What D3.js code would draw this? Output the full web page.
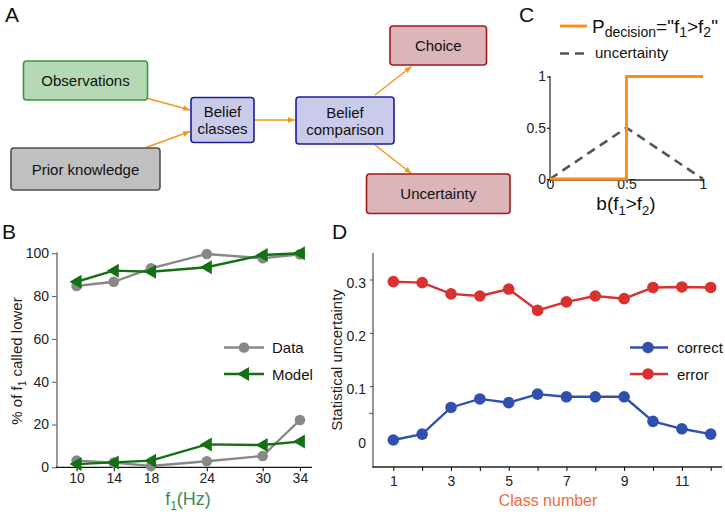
<!DOCTYPE html>
<html><head><meta charset="utf-8">
<script src="https://cdn.jsdelivr.net/npm/d3@7"></script>
<style>
body{margin:0;background:#fff;}
svg{display:block;font-family:"Liberation Sans",Arial,sans-serif;}
</style></head>
<body><svg id="c" width="725" height="515"></svg>
<script>
// ---------- DATA ----------
// Panel A diagram nodes
const nodeLabels = [["Observations"],["Prior knowledge"],["Belief","classes"],["Belief","comparison"],["Choice"],["Uncertainty"]];
const nodeKinds = ["obs","prior","belief","belief","out","out"];
const edges = [[0,2],[1,2],[2,3],[3,4],[3,5]];
// Panel B
const freqs = [10,14,18,24,30,34];
const freqTicks = [10,14,18,24,30,34];
const dataHigh = [84.7,86.7,93,99.7,97.7,99.5];
const dataLow = [3.1,2.2,0.6,2.8,5.3,22.1];
const modelHigh = [86.7,91.9,91.4,93.5,99.2,100];
const modelLow = [1.5,2.3,3.1,10.7,10.4,12];
const pctTicks = [0,20,40,60,80,100];
// Panel C
const beliefX = [0,0.5,0.5,1];
const pDecision = [0,0,1,1];
const uncX = [0,0.5,1];
const uncY = [0,0.5,0];
const cTicks = [0,0.5,1];
const cTickLabels = ["0","0.5","1"];
// Panel D
const classes = [1,2,3,4,5,6,7,8,9,10,11,12];
const correctU = [0.0,0.011,0.061,0.077,0.070,0.086,0.081,0.081,0.081,0.035,0.021,0.011];
const errorU = [0.297,0.295,0.274,0.270,0.283,0.243,0.259,0.270,0.265,0.286,0.287,0.286];
const dYTicks = [0,0.1,0.2,0.3];
const dXTickLabels = [1,3,5,7,9,11];

// ---------- DRAW ----------
const svg = d3.select("#c");
const FONT = "14px";
const ORANGE = "#f7941d";

function letter(t,x,y){svg.append("text").attr("x",x).attr("y",y).attr("font-size","21px").attr("fill","#111").text(t);}
letter("A",5,22); letter("B",2,239); letter("C",519,22); letter("D",332,239);

// ---- Panel A ----
const layout = [
  {x:23.5,y:61,w:124,h:39},
  {x:11,y:148,w:149,h:42},
  {x:191,y:97.5,w:63,h:45},
  {x:296,y:97,w:98,h:47},
  {x:390,y:26,w:96.5,h:39},
  {x:366.5,y:174,w:143.5,h:39.5}
];
const styles = {
  obs:{fill:"#b5d9b5",stroke:"#3a9a3a"},
  prior:{fill:"#c0c0c0",stroke:"#505050"},
  belief:{fill:"#cacaea",stroke:"#1c1c9c"},
  out:{fill:"#dbb5b8",stroke:"#a01a1a"}
};
const defs = svg.append("defs");
defs.append("marker").attr("id","arr").attr("viewBox","0 0 10 10").attr("refX",10).attr("refY",5)
  .attr("markerWidth",7).attr("markerHeight",7).attr("markerUnits","userSpaceOnUse").attr("orient","auto")
  .append("path").attr("d","M0,1 L10,5 L0,9 Z").attr("fill",ORANGE);

const arrowPts = [
  [[148,98.5],[190,110]],
  [[146,147.5],[190,131.5]],
  [[254,120],[295,120]],
  [[375,95],[411.5,66.5]],
  [[375,145],[411.5,173.5]]
];
edges.forEach((e,i)=>{
  const p = arrowPts[i];
  svg.append("line").attr("x1",p[0][0]).attr("y1",p[0][1]).attr("x2",p[1][0]).attr("y2",p[1][1])
    .attr("stroke",ORANGE).attr("stroke-width",1.4).attr("marker-end","url(#arr)");
});
nodeLabels.forEach((lab,i)=>{
  const L = layout[i], s = styles[nodeKinds[i]];
  svg.append("rect").attr("x",L.x).attr("y",L.y).attr("width",L.w).attr("height",L.h).attr("rx",3)
    .attr("fill",s.fill).attr("stroke",s.stroke).attr("stroke-width",1.6);
  const t = svg.append("text").attr("text-anchor","middle").attr("font-size","15px").attr("fill","#111");
  const cx = L.x+L.w/2, cy = L.y+L.h/2;
  if(lab.length===1){ t.append("tspan").attr("x",cx).attr("y",cy+5.5).text(lab[0]); }
  else { t.append("tspan").attr("x",cx).attr("y",cy-3).text(lab[0]); t.append("tspan").attr("x",cx).attr("y",cy+14).text(lab[1]); }
});

// ---- Panel B ----
const xB = d3.scaleLinear().domain([7.9,35.3]).range([57,312]);
const yB = d3.scaleLinear().domain([0,100]).range([467.3,253.3]);
const gB = svg.append("g");
const axBL = gB.append("g").attr("transform","translate(57,0)")
  .call(d3.axisLeft(yB).tickValues(pctTicks).tickSize(5).tickSizeOuter(0).tickPadding(3));
axBL.select(".domain").remove();
axBL.selectAll("line").attr("stroke","#555");
axBL.selectAll("text").attr("font-size",FONT).attr("fill","#222").attr("font-family",null);
gB.append("line").attr("x1",57).attr("x2",57).attr("y1",yB(100)-1).attr("y2",yB(0)).attr("stroke","#777").attr("stroke-width",1.5);
const axBB = gB.append("g").attr("transform","translate(0,467.3)")
  .call(d3.axisBottom(xB).tickValues(freqTicks).tickSize(4).tickSizeOuter(0).tickPadding(2));
axBB.select(".domain").remove();
axBB.selectAll("text").attr("font-size",FONT).attr("fill","#222").attr("font-family",null);
gB.append("line").attr("x1",56).attr("x2",312).attr("y1",467.3).attr("y2",467.3).attr("stroke","#111").attr("stroke-width",1.3);

const lineB = d3.line().x((d,i)=>xB(freqs[i])).y(d=>yB(d));
const GRAY="#888", GREEN="#137013";
[dataHigh,dataLow].forEach(arr=>{
  gB.append("path").attr("d",lineB(arr)).attr("fill","none").attr("stroke",GRAY).attr("stroke-width",2.4);
  gB.selectAll(null).data(arr).enter().append("circle").attr("cx",(d,i)=>xB(freqs[i])).attr("cy",d=>yB(d)).attr("r",5.3).attr("fill",GRAY);
});
const tri = "M-7,0 L5,-7 L5,7 Z";
[modelHigh,modelLow].forEach(arr=>{
  gB.append("path").attr("d",lineB(arr)).attr("fill","none").attr("stroke",GREEN).attr("stroke-width",2.4);
  gB.selectAll(null).data(arr).enter().append("path").attr("d",tri)
    .attr("transform",(d,i)=>`translate(${xB(freqs[i])},${yB(d)})`).attr("fill",GREEN);
});
// legend B
gB.append("line").attr("x1",224).attr("x2",264).attr("y1",347.5).attr("y2",347.5).attr("stroke",GRAY).attr("stroke-width",2.4);
gB.append("circle").attr("cx",244).attr("cy",347.5).attr("r",5.3).attr("fill",GRAY);
gB.append("text").attr("x",272).attr("y",353).attr("font-size","15px").attr("fill","#111").text("Data");
gB.append("line").attr("x1",224).attr("x2",264).attr("y1",374).attr("y2",374).attr("stroke",GREEN).attr("stroke-width",2.4);
gB.append("path").attr("d",tri).attr("transform","translate(244,374)").attr("fill",GREEN);
gB.append("text").attr("x",272).attr("y",380).attr("font-size","15px").attr("fill","#111").text("Model");
// labels
const ylB = gB.append("text").attr("transform","translate(22,361) rotate(-90)").attr("text-anchor","middle").attr("font-size","15px").attr("fill","#222");
ylB.append("tspan").text("% of  f");
ylB.append("tspan").attr("font-size","10px").attr("dy",4).text("1");
ylB.append("tspan").attr("dy",-4).text(" called lower");
const xlB = gB.append("text").attr("x",188).attr("y",505).attr("text-anchor","middle").attr("font-size","18px").attr("fill","#3d8c50");
xlB.append("tspan").text("f");
xlB.append("tspan").attr("font-size","12px").attr("dy",5).text("1");
xlB.append("tspan").attr("dy",-5).text("(Hz)");

// ---- Panel C ----
const xC = d3.scaleLinear().domain([0,1]).range([550,703]);
const yC = d3.scaleLinear().domain([0,1]).range([179,76.5]);
const gC = svg.append("g");
gC.append("line").attr("x1",550).attr("x2",550).attr("y1",76).attr("y2",180.5).attr("stroke","#333").attr("stroke-width",1.3);
gC.append("line").attr("x1",549.5).attr("x2",703.5).attr("y1",180).attr("y2",180).attr("stroke","#333").attr("stroke-width",1.3);
const axCL = gC.append("g").attr("transform","translate(550,0)")
  .call(d3.axisLeft(yC).tickValues(cTicks).tickFormat((d,i)=>cTickLabels[i]).tickSize(3).tickSizeOuter(0).tickPadding(1));
axCL.select(".domain").remove();
axCL.selectAll("text").attr("font-size","14px").attr("fill","#222").attr("font-family",null);
const axCB = gC.append("g").attr("transform","translate(0,180)")
  .call(d3.axisBottom(xC).tickValues(cTicks).tickFormat((d,i)=>cTickLabels[i]).tickSize(3).tickSizeOuter(0).tickPadding(-4));
axCB.select(".domain").remove();
axCB.selectAll("text").attr("font-size","14px").attr("fill","#222").attr("font-family",null);
gC.append("path").attr("d",d3.line().x((d,i)=>xC(uncX[i])).y(d=>yC(d))(uncY))
  .attr("fill","none").attr("stroke","#555").attr("stroke-width",2.6).attr("stroke-dasharray","9,6");
gC.append("path").attr("d",d3.line().x((d,i)=>xC(beliefX[i])).y(d=>yC(d))(pDecision))
  .attr("fill","none").attr("stroke","#ff8a14").attr("stroke-width",2.8);
const xlC = gC.append("text").attr("x",626).attr("y",210).attr("text-anchor","middle").attr("font-size","19px").attr("fill","#111");
xlC.append("tspan").text("b(f");
xlC.append("tspan").attr("font-size","13px").attr("dy",5).text("1");
xlC.append("tspan").attr("dy",-5).text(">f");
xlC.append("tspan").attr("font-size","13px").attr("dy",5).text("2");
xlC.append("tspan").attr("dy",-5).text(")");
// legend C
gC.append("line").attr("x1",560).attr("x2",587).attr("y1",26).attr("y2",26).attr("stroke","#ff8a14").attr("stroke-width",2.8);
const lt = gC.append("text").attr("x",592).attr("y",33).attr("font-size","19px").attr("fill","#111");
lt.append("tspan").text("P");
lt.append("tspan").attr("font-size","14px").attr("dy",4).text("decision");
lt.append("tspan").attr("dy",-4).text("=\"f");
lt.append("tspan").attr("font-size","14px").attr("dy",4).text("1");
lt.append("tspan").attr("dy",-4).text(">f");
lt.append("tspan").attr("font-size","14px").attr("dy",4).text("2");
lt.append("tspan").attr("dy",-4).text("\"");
gC.append("line").attr("x1",560).attr("x2",587).attr("y1",53.5).attr("y2",53.5).attr("stroke","#555").attr("stroke-width",2.6).attr("stroke-dasharray","9,6");
gC.append("text").attr("x",595).attr("y",58).attr("font-size","15px").attr("fill","#111").text("uncertainty");

// ---- Panel D ----
const xD = d3.scaleLinear().domain([1,12]).range([393.3,710.7]);
const yD = d3.scaleLinear().domain([0,0.3]).range([440,280]);
const gD = svg.append("g");
gD.append("line").attr("x1",373).attr("x2",373).attr("y1",253).attr("y2",467.5).attr("stroke","#666").attr("stroke-width",1.4);
gD.append("line").attr("x1",372.5).attr("x2",722).attr("y1",467).attr("y2",467).attr("stroke","#222").attr("stroke-width",1.3);
const axDL = gD.append("g").attr("transform","translate(373,0)")
  .call(d3.axisLeft(yD).tickValues(dYTicks).tickFormat(d=>d===0?"0":d3.format(".1f")(d)).tickSize(0).tickPadding(7));
axDL.select(".domain").remove();
axDL.selectAll("text").attr("font-size",FONT).attr("fill","#222").attr("font-family",null).attr("dy","0.5em");
[0.1,0.2,0.3].forEach(v=>gD.append("line").attr("x1",370).attr("x2",373).attr("y1",yD(v)).attr("y2",yD(v)).attr("stroke","#444"));
gD.append("line").attr("x1",369).attr("x2",373).attr("y1",yD(0.05)).attr("y2",yD(0.05)).attr("stroke","#3050b0");
const axDB = gD.append("g").attr("transform","translate(0,467)")
  .call(d3.axisBottom(xD).tickValues(classes).tickFormat(d=>dXTickLabels.includes(d)?d:"").tickSize(4).tickSizeOuter(0).tickPadding(5));
axDB.select(".domain").remove();
axDB.selectAll("text").attr("font-size",FONT).attr("fill","#222").attr("font-family",null);
const lineD = d3.line().x((d,i)=>xD(classes[i])).y(d=>yD(d));
const RED="#d93030", BLUE="#3050b0";
[[errorU,RED],[correctU,BLUE]].forEach(([arr,c])=>{
  gD.append("path").attr("d",lineD(arr)).attr("fill","none").attr("stroke",c).attr("stroke-width",2.4);
  gD.selectAll(null).data(arr).enter().append("circle").attr("cx",(d,i)=>xD(classes[i])).attr("cy",d=>yD(d)).attr("r",5.8).attr("fill",c);
});
gD.append("line").attr("x1",630).attr("x2",668).attr("y1",347.5).attr("y2",347.5).attr("stroke",BLUE).attr("stroke-width",2.4);
gD.append("circle").attr("cx",648).attr("cy",347.5).attr("r",5.8).attr("fill",BLUE);
gD.append("text").attr("x",677).attr("y",353).attr("font-size","15px").attr("fill","#111").text("correct");
gD.append("line").attr("x1",630).attr("x2",668).attr("y1",374).attr("y2",374).attr("stroke",RED).attr("stroke-width",2.4);
gD.append("circle").attr("cx",648).attr("cy",374).attr("r",5.8).attr("fill",RED);
gD.append("text").attr("x",677).attr("y",380).attr("font-size","15px").attr("fill","#111").text("error");
gD.append("text").attr("transform","translate(342,360) rotate(-90)").attr("text-anchor","middle").attr("font-size","15px").attr("fill","#222").text("Statistical uncertainty");
gD.append("text").attr("x",548).attr("y",506).attr("text-anchor","middle").attr("font-size","16px").attr("fill","#f26a3c").text("Class number");
</script></body></html>
